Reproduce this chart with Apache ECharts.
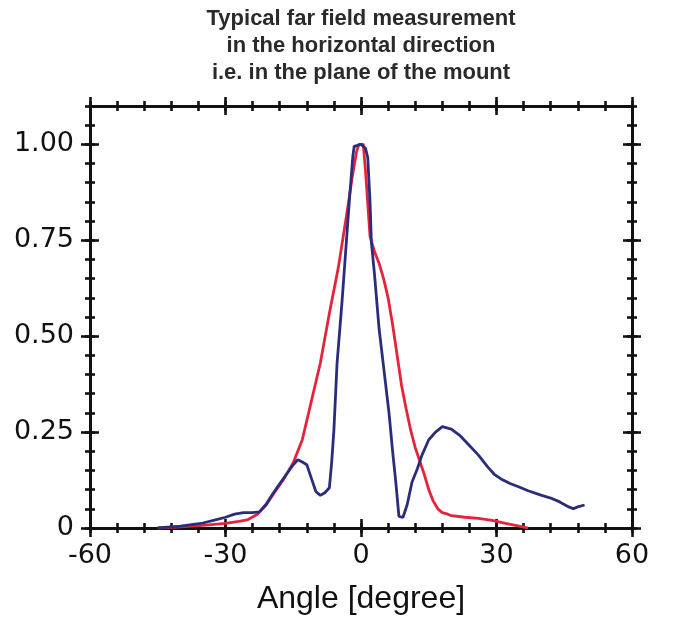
<!DOCTYPE html>
<html>
<head>
<meta charset="utf-8">
<script src="https://cdn.jsdelivr.net/npm/echarts@6/dist/echarts.min.js"></script>
<style>
html,body{margin:0;padding:0;background:#fff;}
#chart{width:686px;height:629px;}
</style>
</head>
<body>
<div id="chart"></div>
<script>
// ---- data ----
const titleLines = ['Typical far field measurement', 'in the horizontal direction', 'i.e. in the plane of the mount'];
const xAxisName = 'Angle [degree]';
const xTickLabels = [-60, -30, 0, 30, 60];
const yTickLabels = [0, 0.25, 0.5, 0.75, 1.0];

const redAngles = [-45,-40,-35,-30,-27,-25,-23,-21,-19,-17,-15,-13,-11,-9,-7,-5,-3,-2,-1,-0.5,0.5,1,2,3,4,5,6,7,8,9,10,11,12,13,14,15,16,17,18,19,20,23,26,29,32,35,37];
const redValues = [0,0.003,0.007,0.012,0.017,0.022,0.035,0.06,0.095,0.13,0.17,0.23,0.33,0.43,0.56,0.68,0.83,0.91,0.98,1.0,1.0,0.93,0.76,0.72,0.69,0.65,0.60,0.53,0.45,0.37,0.31,0.255,0.21,0.175,0.14,0.10,0.07,0.05,0.04,0.037,0.032,0.028,0.025,0.02,0.012,0.005,0];

const blueAngles = [-45,-40,-35,-32,-30,-28,-26,-24,-22.5,-21,-19.5,-18,-16.5,-15,-14,-13,-12,-11,-10,-9,-8,-7,-6.5,-6,-5.3,-4.2,-3.4,-2.6,-1.8,-1.5,0,1,1.5,2,2.3,3,4,5,6.2,7,7.7,8.4,9.3,10.2,11.3,12.5,13.5,15,16.5,18,20,22,24,26,28,29.5,31,33,35,37,40,42,44,46,47,48,49.5];
const blueValues = [0,0.005,0.013,0.022,0.028,0.036,0.04,0.04,0.042,0.062,0.09,0.115,0.14,0.165,0.178,0.172,0.165,0.13,0.095,0.085,0.092,0.105,0.17,0.255,0.43,0.59,0.72,0.85,0.97,0.995,1.0,0.99,0.965,0.85,0.745,0.66,0.52,0.42,0.30,0.2,0.12,0.03,0.028,0.06,0.12,0.155,0.19,0.23,0.25,0.264,0.258,0.24,0.215,0.19,0.16,0.14,0.128,0.116,0.107,0.097,0.085,0.078,0.068,0.055,0.05,0.055,0.06];

// ---- chart ----
const INK = '#111111';
const FONT = '"Liberation Sans", Arial, Helvetica, sans-serif';
const TICKFONT = '"DejaVu Sans", "Liberation Sans", sans-serif';

function xAx(position, interval, len, inside, extra) {
  return Object.assign({
    type: 'value', position: position, min: -60, max: 60, interval: interval,
    axisLine: { show: false, onZero: false },
    axisTick: { show: true, inside: inside, length: len, lineStyle: { color: INK, width: 2.6 } },
    axisLabel: { show: false },
    splitLine: { show: false }
  }, extra || {});
}
function yAx(position, interval, len, inside, extra) {
  return Object.assign({
    type: 'value', position: position, min: 0, max: 1.1, interval: interval,
    axisLine: { show: false, onZero: false },
    axisTick: { show: true, inside: inside, length: len, lineStyle: { color: INK, width: 2.6 } },
    axisLabel: { show: false },
    splitLine: { show: false }
  }, extra || {});
}

const xAxes = [
  xAx('bottom', 30, 9, false, {
    axisLine: { show: true, onZero: false, lineStyle: { color: INK, width: 3 } },
    axisTick: { show: true, inside: false, length: 9, customValues: xTickLabels, lineStyle: { color: INK, width: 2.6 } },
    axisLabel: { show: true, customValues: xTickLabels, margin: 14, color: '#111', fontSize: 27, fontFamily: TICKFONT },
    name: xAxisName, nameLocation: 'middle', nameGap: 55,
    nameTextStyle: { color: '#111', fontSize: 32, fontFamily: FONT }
  }),
  xAx('bottom', 30, 9, true),
  xAx('bottom', 6, 5, true),
  xAx('bottom', 6, 5, false),
  xAx('top', 30, 9, false, {
    axisLine: { show: true, onZero: false, lineStyle: { color: INK, width: 3 } }
  }),
  xAx('top', 30, 9, true),
  xAx('top', 6, 5, true),
  xAx('top', 6, 5, false)
];

const yAxes = [
  yAx('left', 0.25, 9, false, {
    axisLine: { show: true, onZero: false, lineStyle: { color: INK, width: 3 } },
    axisTick: { show: true, inside: false, length: 9, customValues: yTickLabels, lineStyle: { color: INK, width: 2.6 } },
    axisLabel: {
      show: true, customValues: yTickLabels, margin: 16, color: '#111', fontSize: 27, fontFamily: TICKFONT,
      formatter: function (v) { return v === 0 ? '0' : Number(v).toFixed(2); }
    }
  }),
  yAx('left', 0.25, 9, true, { axisTick: { show: true, inside: true, length: 9, customValues: yTickLabels, lineStyle: { color: INK, width: 2.6 } } }),
  yAx('left', 0.05, 5, true),
  yAx('left', 0.05, 5, false),
  yAx('right', 0.25, 9, false, {
    axisLine: { show: true, onZero: false, lineStyle: { color: INK, width: 3 } },
    axisTick: { show: true, inside: false, length: 9, customValues: yTickLabels, lineStyle: { color: INK, width: 2.6 } }
  }),
  yAx('right', 0.25, 9, true, { axisTick: { show: true, inside: true, length: 9, customValues: yTickLabels, lineStyle: { color: INK, width: 2.6 } } }),
  yAx('right', 0.05, 5, true),
  yAx('right', 0.05, 5, false)
];

const chart = echarts.init(document.getElementById('chart'), null, { renderer: 'canvas' });
chart.setOption({
  animation: false,
  backgroundColor: '#ffffff',
  title: {
    text: titleLines.join('\n'),
    left: 361, top: 5, padding: 0, textAlign: 'center',
    textStyle: { color: '#2a2a2a', fontSize: 22, fontWeight: 'bold', fontFamily: FONT, lineHeight: 27, align: 'center' }
  },
  grid: { left: 90, right: 54, top: 106, bottom: 101, containLabel: false },
  xAxis: xAxes,
  yAxis: yAxes,
  series: [
    {
      name: 'red', type: 'line', xAxisIndex: 0, yAxisIndex: 0,
      showSymbol: false, symbol: 'none',
      lineStyle: { color: '#e4243a', width: 2.8 },
      data: redAngles.map(function (a, i) { return [a, redValues[i]]; })
    },
    {
      name: 'blue', type: 'line', xAxisIndex: 0, yAxisIndex: 0,
      showSymbol: false, symbol: 'none',
      lineStyle: { color: '#2b2c7c', width: 2.8 },
      data: blueAngles.map(function (a, i) { return [a, blueValues[i]]; })
    }
  ]
});
</script>
</body>
</html>
